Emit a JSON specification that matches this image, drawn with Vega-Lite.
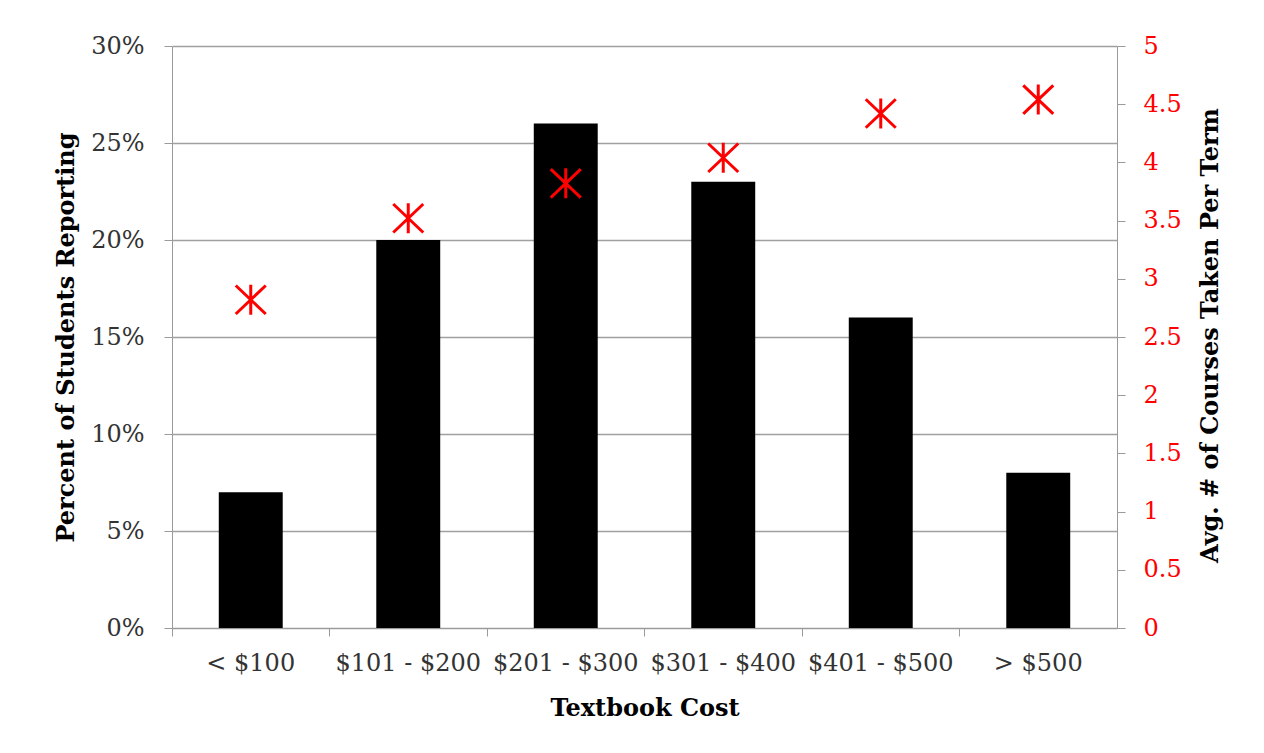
{
  "$schema": "https://vega.github.io/schema/vega-lite/v6.json",
  "width": 945,
  "height": 582,
  "autosize": {"type": "none"},
  "padding": {"left": 172, "top": 46, "right": 147, "bottom": 125},
  "background": "white",
  "config": {
    "view": {"stroke": null},
    "font": "DejaVu Serif",
    "axis": {"labelFont": "DejaVu Serif", "titleFont": "DejaVu Serif"}
  },
  "data": {
    "values": [
      {"cost": "< $100", "pct": 0.07, "courses": 2.82},
      {"cost": "$101 - $200", "pct": 0.20, "courses": 3.52},
      {"cost": "$201 - $300", "pct": 0.26, "courses": 3.82},
      {"cost": "$301 - $400", "pct": 0.23, "courses": 4.04},
      {"cost": "$401 - $500", "pct": 0.16, "courses": 4.42},
      {"cost": "> $500", "pct": 0.08, "courses": 4.54}
    ]
  },
  "encoding": {
    "x": {
      "field": "cost",
      "type": "nominal",
      "sort": null,
      "scale": {"paddingInner": 0, "paddingOuter": 0},
      "axis": {
        "title": "Textbook Cost",
        "labelAngle": 0,
        "bandPosition": 0,
        "tickSize": 8,
        "tickColor": "#9a9a9a",
        "domainColor": "#9a9a9a",
        "labelFontSize": 24,
        "labelColor": "#333333",
        "labelPadding": 15,
        "titleFontSize": 24,
        "titleFontWeight": "bold",
        "titleColor": "#000000",
        "titlePadding": 21
      }
    }
  },
  "layer": [
    {
      "mark": {"type": "bar", "color": "#000000", "width": {"band": 0.406}},
      "encoding": {
        "y": {
          "field": "pct",
          "type": "quantitative",
          "scale": {"domain": [0, 0.3]},
          "axis": {
            "title": "Percent of Students Reporting",
            "format": ".0%",
            "values": [0, 0.05, 0.1, 0.15, 0.2, 0.25, 0.3],
            "grid": true,
            "gridColor": "#a0a0a0",
            "gridWidth": 1.3,
            "tickSize": 8,
            "tickColor": "#9a9a9a",
            "domainColor": "#9a9a9a",
            "labelFontSize": 24,
            "labelColor": "#333333",
            "labelPadding": 20,
            "titleFontSize": 24,
            "titleFontWeight": "bold",
            "titleColor": "#000000",
            "titlePadding": 12
          }
        }
      }
    },
    {
      "mark": {
        "type": "point",
        "shape": "M0,-1L0,1M-1,-0.95L1,0.95M-1,0.95L1,-0.95",
        "size": 900,
        "stroke": "#ff0000",
        "strokeWidth": 3,
        "filled": false,
        "opacity": 1
      },
      "encoding": {
        "y": {
          "field": "courses",
          "type": "quantitative",
          "scale": {"domain": [0, 5]},
          "axis": {
            "orient": "right",
            "title": "Avg. # of Courses Taken Per Term",
            "titleAngle": 270,
            "titleX": 93,
            "titleY": 289,
            "titleAlign": "center",
            "titleBaseline": "middle",
            "format": ".1~f",
            "values": [0, 0.5, 1, 1.5, 2, 2.5, 3, 3.5, 4, 4.5, 5],
            "grid": false,
            "tickSize": 8,
            "tickColor": "#9a9a9a",
            "domainColor": "#9a9a9a",
            "labelFontSize": 24,
            "labelColor": "#ff0000",
            "labelPadding": 18,
            "titleFontSize": 24,
            "titleFontWeight": "bold",
            "titleColor": "#000000"
          }
        }
      }
    }
  ],
  "resolve": {"scale": {"y": "independent"}}
}
